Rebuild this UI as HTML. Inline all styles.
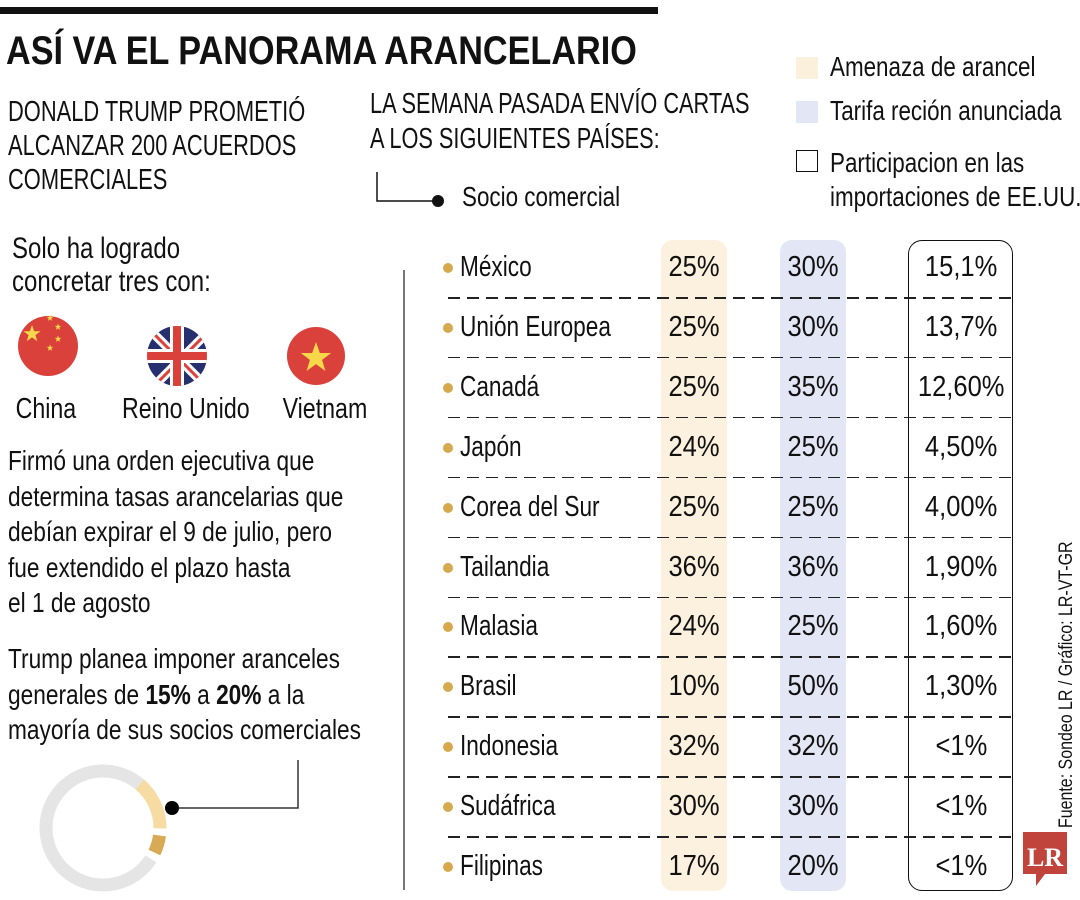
<!DOCTYPE html>
<html><head><meta charset="utf-8">
<style>
body{margin:0;width:1080px;height:900px;background:#fff;position:relative;overflow:hidden;font-family:"Liberation Sans",sans-serif;color:#111}
.a{position:absolute;white-space:nowrap}
.s{transform:scaleX(0.8);transform-origin:0 0}
.c{display:inline-block;transform:scaleX(0.8);transform-origin:50% 0}
.v{display:inline-block;transform:scaleX(0.88);transform-origin:50% 0}
.t{font-size:28px;line-height:30px}
</style></head><body>
<div class="a" style="left:0;top:7px;width:658px;height:7px;background:#111"></div>
<div class="a" style="left:6px;top:29px;font-size:40px;font-weight:bold;line-height:44px;transform:scaleX(0.855);transform-origin:0 0">ASÍ VA EL PANORAMA ARANCELARIO</div>
<div class="a s" style="left:8px;top:95px;font-size:29px;line-height:34px;transform:scaleX(0.755)">DONALD TRUMP PROMETIÓ<br>ALCANZAR 200 ACUERDOS<br>COMERCIALES</div>
<div class="a s" style="left:370px;top:87px;font-size:29px;line-height:35px;transform:scaleX(0.75)">LA SEMANA PASADA ENVÍO CARTAS<br>A LOS SIGUIENTES PAÍSES:</div>
<svg class="a" style="left:370px;top:170px" width="80" height="40"><path d="M7 2V31H68" stroke="#111" stroke-width="1.5" fill="none"/><circle cx="68" cy="31" r="6" fill="#111"/></svg>
<div class="a t s" style="left:462px;top:182px">Socio comercial</div>

<div class="a" style="left:796px;top:57px;width:22px;height:22px;background:#fbf0dc"></div>
<div class="a t s" style="left:830px;top:52px">Amenaza de arancel</div>
<div class="a" style="left:796px;top:101px;width:22px;height:22px;background:#e3e6f5"></div>
<div class="a t s" style="left:830px;top:96px">Tarifa reción anunciada</div>
<div class="a" style="left:796px;top:150px;width:20px;height:20px;border:1.5px solid #111"></div>
<div class="a t s" style="left:830px;top:146px;line-height:34px">Participacion en las<br>importaciones de EE.UU.</div>

<div class="a s" style="left:12px;top:232px;font-size:30px;line-height:33px">Solo ha logrado<br>concretar tres con:</div>
<svg class="a" style="left:0;top:300px" width="380" height="130">
<defs><clipPath id="c2"><circle cx="177" cy="56" r="30"/></clipPath>
<polygon id="st" points="0,-10 2.4,-3.1 9.5,-3.1 3.8,1.2 5.9,8.1 0,3.8 -5.9,8.1 -3.8,1.2 -9.5,-3.1 -2.4,-3.1"/></defs>
<g><circle cx="48" cy="46" r="30" fill="#d9413a"/><use href="#st" transform="translate(32,34) scale(0.9)" fill="#f6d84a"/><use href="#st" transform="translate(50,18) scale(0.35)" fill="#f6d84a"/><use href="#st" transform="translate(58,27) scale(0.35)" fill="#f6d84a"/><use href="#st" transform="translate(58,39) scale(0.35)" fill="#f6d84a"/><use href="#st" transform="translate(50,48) scale(0.35)" fill="#f6d84a"/></g>
<g clip-path="url(#c2)"><rect x="140" y="20" width="80" height="80" fill="#27306e"/><path d="M140 20L220 100M220 20L140 100" stroke="#fff" stroke-width="9"/><path d="M140 20L220 100M220 20L140 100" stroke="#d9413a" stroke-width="3"/><path d="M177 20V100M140 56H220" stroke="#fff" stroke-width="14"/><path d="M177 20V100M140 56H220" stroke="#d9413a" stroke-width="8"/></g>
<g><circle cx="316" cy="56" r="29" fill="#d9413a"/><use href="#st" transform="translate(316,58) scale(1.6)" fill="#f6d84a"/></g>
</svg>
<div class="a t" style="left:-4px;width:100px;text-align:center;top:394px;font-size:29px"><span class="c">China</span></div>
<div class="a t" style="left:106px;width:150px;text-align:center;top:394px;font-size:29px"><span class="c">Reino Unido</span></div>
<div class="a t" style="left:272px;width:100px;text-align:center;top:394px;font-size:29px"><span class="c">Vietnam</span></div>
<div class="a s" style="left:8px;top:443px;font-size:28px;line-height:35.5px;transform:scaleX(0.81)">Firmó una orden ejecutiva que<br>determina tasas arancelarias que<br>debían expirar el 9 de julio, pero<br>fue extendido el plazo hasta<br>el 1 de agosto</div>
<div class="a s" style="left:8px;top:641px;font-size:28px;line-height:35.5px;transform:scaleX(0.81)">Trump planea imponer aranceles<br>generales de <b>15%</b> a <b>20%</b> a la<br>mayoría de sus socios comerciales</div>

<svg class="a" id="donut" style="left:0;top:740px" width="320" height="160"></svg>

<div class="a" style="left:403px;top:270px;width:2px;height:620px;background:#777"></div>
<div class="a" style="left:661px;top:240px;width:66px;height:651px;background:#fbf1de;border-radius:12px"></div>
<div class="a" style="left:780px;top:240px;width:66px;height:651px;background:#e3e6f5;border-radius:12px"></div>
<div class="a" style="left:908px;top:240px;width:103px;height:649px;border:1.5px solid #111;border-radius:14px"></div>
<div id="table"></div>

<div class="a" style="left:1056px;top:828px;transform-origin:0 0;transform:rotate(-90deg) scaleX(0.84);font-size:19px">Fuente: Sondeo LR / Gráfico: LR-VT-GR</div>
<svg class="a" style="left:1021px;top:830px" width="50" height="60"><path d="M2 2H46V44H24L15 56V44H2Z" fill="#c0433c"/><text x="24" y="36" font-family="Liberation Serif" font-weight="bold" font-size="26" fill="#fff" text-anchor="middle">LR</text></svg>

<script>
const countries=["México","Unión Europea","Canadá","Japón","Corea del Sur","Tailandia","Malasia","Brasil","Indonesia","Sudáfrica","Filipinas"];
const threat=["25%","25%","25%","24%","25%","36%","24%","10%","32%","30%","17%"];
const tariff=["30%","30%","35%","25%","25%","36%","25%","50%","32%","30%","20%"];
const share=["15,1%","13,7%","12,60%","4,50%","4,00%","1,90%","1,60%","1,30%","<1%","<1%","<1%"];
const donutVals=[14,2,5,2,77];
const donutColors=["#f6dca3","#fff","#d9aa55","#fff","#e5e5e5"];
const tbl=document.getElementById('table');
const y0=268,dy=59.9;
function mk(cls,css,txt,center){const d=document.createElement('div');d.className=cls;d.style.cssText=css;if(txt!==undefined){if(center){const s=document.createElement('span');s.className='v';s.textContent=txt;d.appendChild(s);}else d.textContent=txt;}tbl.appendChild(d);return d;}
countries.forEach((c,i)=>{
  const y=y0+i*dy;
  const dot=mk('a',`left:443px;top:${y-5}px;width:10px;height:10px;border-radius:50%;background:#d6a94f`);
  
  
  const n=mk('a s',`left:460px;top:${y-18}px;font-size:29px;line-height:34px;transform:scaleX(0.78)`,c);
  
  
  const a=mk('a',`left:661px;width:66px;text-align:center;top:${y-18}px;font-size:29px;line-height:34px`,threat[i],true);
  
  
  const b=mk('a',`left:780px;width:66px;text-align:center;top:${y-18}px;font-size:29px;line-height:34px`,tariff[i],true);
  
  
  const s=mk('a',`left:908px;width:106px;text-align:center;top:${y-18}px;font-size:29px;line-height:34px`,share[i],true);
  
  
  if(i<countries.length-1){
    const l=mk('a',`left:448px;top:${y+29}px;width:564px;height:1.5px;background:repeating-linear-gradient(90deg,#222 0 12px,transparent 12px 19px)`);
    
    
  }
});
const svg=document.getElementById('donut');const NS='http://www.w3.org/2000/svg';
const cx=103,cy=88,r=57,sw=13;let ang=-50;const tot=donutVals.reduce((p,q)=>p+q,0);
donutVals.forEach((v,i)=>{
  const a1=ang*Math.PI/180,a2=(ang+v/tot*360)*Math.PI/180;ang+=v/tot*360;
  const p=document.createElementNS(NS,'path');
  const large=(a2-a1)>Math.PI?1:0;
  p.setAttribute('d',`M${cx+r*Math.cos(a1)} ${cy+r*Math.sin(a1)}A${r} ${r} 0 ${large} 1 ${cx+r*Math.cos(a2)} ${cy+r*Math.sin(a2)}`);
  p.setAttribute('stroke',donutColors[i]);p.setAttribute('stroke-width',sw);p.setAttribute('fill','none');
  
  
  svg.appendChild(p);
});
const ln=document.createElementNS(NS,'path');
ln.setAttribute('d','M172 68H298V20');ln.setAttribute('stroke','#333');ln.setAttribute('stroke-width','1.5');ln.setAttribute('fill','none');


svg.appendChild(ln);
const dc=document.createElementNS(NS,'circle');dc.setAttribute('cx',172);dc.setAttribute('cy',68);dc.setAttribute('r',7);dc.setAttribute('fill','#000');


svg.appendChild(dc);
</script>
</body></html>
